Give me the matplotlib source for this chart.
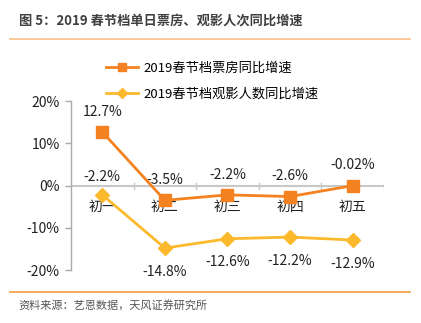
import matplotlib.pyplot as plt
from matplotlib.lines import Line2D

plt.rcParams['font.family'] = ['Noto Sans CJK SC', 'DejaVu Sans']

days = ['初一', '初二', '初三', '初四', '初五']
box_office = [12.7, -3.5, -2.2, -2.6, -0.02]
audience = [-2.2, -14.8, -12.6, -12.2, -12.9]
box_labels = ['12.7%', '-3.5%', '-2.2%', '-2.6%', '-0.02%']
aud_labels = ['-2.2%', '-14.8%', '-12.6%', '-12.2%', '-12.9%']

c_box = '#F58220'
c_aud = '#FDB92C'

fig = plt.figure(figsize=(4.21, 3.23), dpi=100)
ax = fig.add_axes([0.1686, 0.164, 0.7434, 0.523])

x = list(range(len(days)))
ax.plot(x, box_office, color=c_box, lw=2, marker='s', ms=8, zorder=3)
ax.plot(x, audience, color=c_aud, lw=2, marker='D', ms=7, zorder=3)

ax.set_xlim(-0.5, len(days) - 0.5)
ax.set_ylim(-20, 20)
ax.set_yticks([-20, -10, 0, 10, 20])
ax.set_yticklabels([f'{v}%' for v in [-20, -10, 0, 10, 20]], fontsize=10, color='#222222')
ax.tick_params(axis='y', length=4, color='#aaaaaa', width=1, pad=4)
ax.set_xticks([])

for s in ['top', 'right', 'bottom']:
    ax.spines[s].set_visible(False)
ax.spines['left'].set_color('#aaaaaa')
ax.spines['left'].set_linewidth(1)

# zero line with category separator ticks
ax.axhline(0, color='#c8c8c8', lw=1.5, zorder=1)
for b in [0.5, 1.5, 2.5, 3.5, 4.5]:
    ax.plot([b, b], [-0.7, 0.7], color='#c8c8c8', lw=1, zorder=1)

for i, d in enumerate(days):
    ax.text(i, -5.0, d, ha='center', va='center', fontsize=10, color='#222222', zorder=2)

# value labels
for i, (v, t) in enumerate(zip(box_office, box_labels)):
    ax.text(i, v + 4.8, t, ha='center', va='center', fontsize=10, color='#222222', zorder=2)
for i, (v, t) in enumerate(zip(audience, aud_labels)):
    off = 4.2 if i == 0 else -5.6
    ax.text(i, v + off, t, ha='center', va='center', fontsize=10, color='#222222', zorder=2)

handles = [
    Line2D([], [], color=c_box, lw=2, marker='s', ms=6),
    Line2D([], [], color=c_aud, lw=2, marker='D', ms=5),
]
fig.legend(handles, ['2019春节档票房同比增速', '2019春节档观影人数同比增速'],
           loc='center', bbox_to_anchor=(0.504, 0.749), frameon=False,
           fontsize=9.5, handlelength=2.4, handletextpad=0.4,
           labelspacing=0.95, borderaxespad=0)

# header and footer
fig.text(0.045, 0.935, '图 5：2019 春节档单日票房、观影人次同比增速',
         fontsize=9.5, fontweight='bold', color='#404040', va='center')
fig.add_artist(Line2D([0.024, 0.974], [0.878, 0.878], color='#F9C089', lw=1.2))
fig.add_artist(Line2D([0.024, 0.974], [0.097, 0.097], color='#F39A3C', lw=1.2))
fig.text(0.045, 0.055, '资料来源：艺恩数据，天风证券研究所',
         fontsize=8, color='#555555', va='center')

fig.savefig('out.png', dpi=100)
